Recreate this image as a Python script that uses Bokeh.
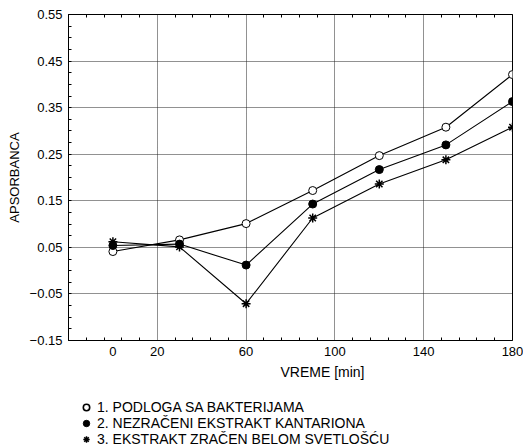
from bokeh.plotting import figure
from bokeh.layouts import column
from bokeh.models import (FixedTicker, LinearAxis, Legend, LegendItem, Title,
                          Range1d, Grid)
from bokeh.embed import file_html
from bokeh.resources import INLINE

# ---- data ----
time_min = [0, 30, 60, 90, 120, 150, 180]
s1_podloga = [0.041, 0.066, 0.101, 0.172, 0.247, 0.308, 0.421]
s2_nezraceni = [0.054, 0.057, 0.012, 0.143, 0.217, 0.270, 0.363]
s3_zracen = [0.062, 0.051, -0.071, 0.113, 0.186, 0.238, 0.308]
labels = ["1. PODLOGA SA BAKTERIJAMA",
          "2. NEZRAČENI EKSTRAKT KANTARIONA",
          "3. EKSTRAKT ZRAČEN BELOM SVETLOŠĆU"]
x_tick_vals = [0, 20, 60, 100, 140, 180]
x_grid_vals = [20, 60, 100, 140]
x_minor = [-12, -4, 4, 12, 28, 36, 44, 52, 68, 76, 84, 92,
           108, 116, 124, 132, 148, 156, 164, 172]
y_tick_vals = [-0.15, -0.05, 0.05, 0.15, 0.25, 0.35, 0.45, 0.55]
y_grid_vals = [-0.05, 0.05, 0.15, 0.25, 0.35, 0.45]
y_minor = [round(-0.15 + 0.025 * i, 3) for i in range(29)]

FONT = "Liberation Sans"

p = figure(width=523, height=387, output_backend="svg",
           toolbar_location=None,
           x_range=Range1d(-20, 180), y_range=Range1d(-0.15, 0.55),
           min_border_left=68, min_border_right=11, min_border_top=14,
           min_border_bottom=47,
           x_axis_location=None, y_axis_location=None)
p.background_fill_color = "white"
p.border_fill_color = "white"
p.outline_line_color = "black"
p.outline_line_width = 1
p.grid.visible = False

# axes
xax = LinearAxis(ticker=FixedTicker(ticks=x_tick_vals, minor_ticks=x_minor))
xax.major_tick_in = 0
xax.major_tick_out = 0
xax.minor_tick_in = 3
xax.minor_tick_out = 0
xax.axis_line_color = "black"
xax.major_label_text_font = FONT
xax.major_label_text_font_size = "13px"
xax.major_label_text_color = "black"
xax.major_label_standoff = 6
p.add_layout(xax, "below")

xtop = LinearAxis(ticker=FixedTicker(ticks=[], minor_ticks=x_minor))
xtop.major_label_standoff = 0
xtop.major_tick_in = 0
xtop.major_tick_out = 0
xtop.minor_tick_in = 3
xtop.minor_tick_out = 0
xtop.axis_line_color = "black"
p.add_layout(xtop, "above")

yax = LinearAxis(ticker=FixedTicker(ticks=y_tick_vals, minor_ticks=y_minor))
yax.major_tick_in = 0
yax.major_tick_out = 0
yax.minor_tick_in = 3
yax.minor_tick_out = 0
yax.axis_line_color = "black"
yax.major_label_text_font = FONT
yax.major_label_text_font_size = "13px"
yax.major_label_text_color = "black"
yax.major_label_standoff = 6
yax.axis_label = "APSORBANCA"
yax.axis_label_text_font = FONT
yax.axis_label_text_font_size = "13px"
yax.axis_label_text_font_style = "normal"
yax.axis_label_text_color = "black"
yax.axis_label_standoff = 5
p.add_layout(yax, "left")

# grids
gx = Grid(dimension=0, ticker=FixedTicker(ticks=x_grid_vals),
          grid_line_color="#222222", grid_line_dash="1 1", grid_line_width=1)
gy = Grid(dimension=1, ticker=FixedTicker(ticks=y_grid_vals),
          grid_line_color="#222222", grid_line_dash="1 1", grid_line_width=1)
p.add_layout(gx)
p.add_layout(gy)

# series
p.line(time_min, s1_podloga, line_color="black", line_width=1.1)
p.line(time_min, s2_nezraceni, line_color="black", line_width=1.1)
p.line(time_min, s3_zracen, line_color="black", line_width=1.1)
p.scatter(time_min, s1_podloga, marker="circle", size=8,
          fill_color="white", line_color="black", line_width=1)
p.scatter(time_min, s2_nezraceni, marker="circle", size=8,
          fill_color="black", line_color="black", line_width=1)
p.scatter(time_min, s3_zracen, marker="asterisk", size=9,
          line_color="black", line_width=1.5)

# x axis title (offset to the right as in the original)
t = Title(text="VREME [min]", align="left", offset=212,
          text_font=FONT, text_font_size="14px", text_font_style="normal",
          text_color="black", standoff=6)
p.add_layout(t, "below")

# ---- legend panel (separate figure below the chart) ----
# the series are drawn here outside the visible range, only to feed the legend
lg = figure(width=523, height=60, output_backend="svg", toolbar_location=None,
            x_range=Range1d(1000, 1001), y_range=Range1d(1000, 1001),
            min_border_left=68, min_border_right=11, min_border_top=0,
            min_border_bottom=0, x_axis_location=None, y_axis_location=None)
lg.outline_line_color = None
lg.grid.visible = False
lg.background_fill_color = "white"
lg.border_fill_color = "white"
e1 = lg.scatter(time_min, s1_podloga, marker="circle", size=7,
                fill_color="white", line_color="black", line_width=1.6)
e2 = lg.scatter(time_min, s2_nezraceni, marker="circle", size=7,
                fill_color="black", line_color="black", line_width=1)
e3 = lg.scatter(time_min, s3_zracen, marker="asterisk", size=8,
                line_color="black", line_width=1.5)
legend = Legend(items=[LegendItem(label=labels[0], renderers=[e1]),
                       LegendItem(label=labels[1], renderers=[e2]),
                       LegendItem(label=labels[2], renderers=[e3])],
                location=(9, 0), orientation="vertical",
                glyph_width=18, glyph_height=16, label_height=16,
                spacing=0, padding=0, margin=0, label_standoff=2,
                label_text_font=FONT, label_text_font_size="14px",
                label_text_color="black",
                border_line_alpha=0, background_fill_alpha=0)
lg.add_layout(legend, "center")

open("out.html", "w").write(file_html(column(p, lg, spacing=0), INLINE))
